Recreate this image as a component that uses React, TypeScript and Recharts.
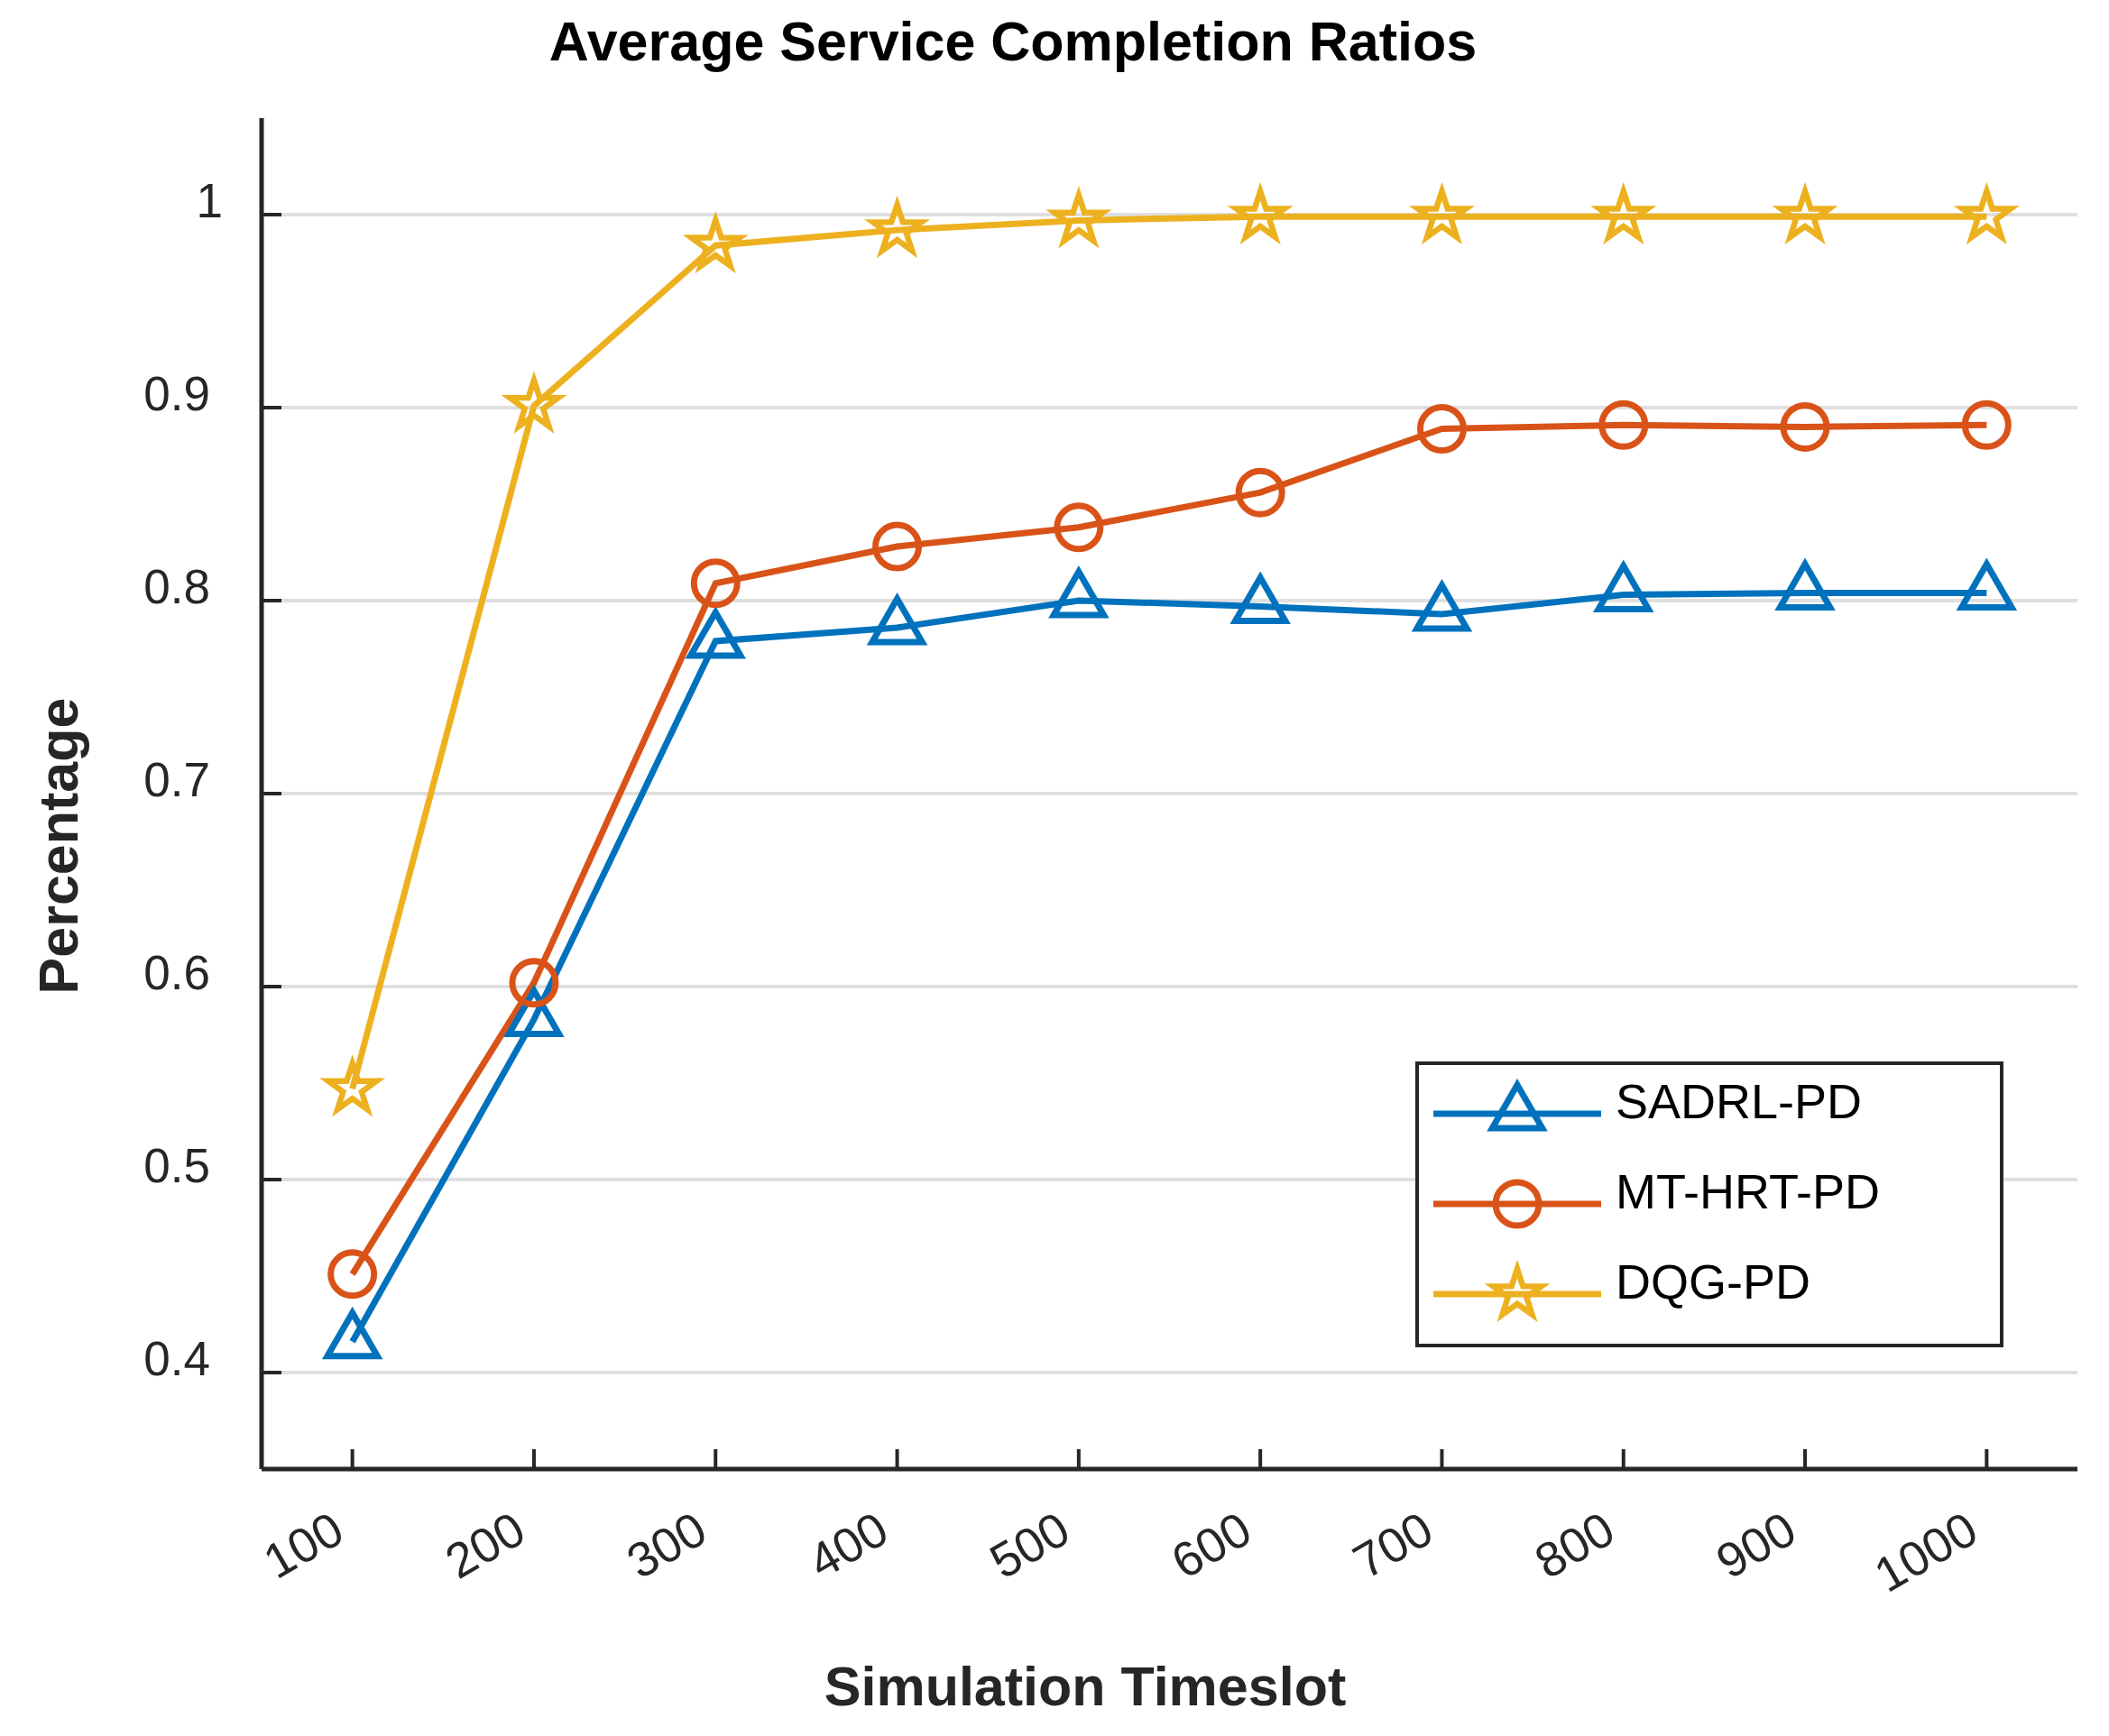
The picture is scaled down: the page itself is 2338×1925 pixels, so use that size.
import React from 'react';
import { LineChart, Line, XAxis, YAxis, CartesianGrid, Legend } from 'recharts';

const TIMESLOTS = [100, 200, 300, 400, 500, 600, 700, 800, 900, 1000];
const SADRL_PD = [0.416, 0.583, 0.779, 0.786, 0.8, 0.797, 0.793, 0.803, 0.804, 0.804];
const MT_HRT_PD = [0.451, 0.602, 0.809, 0.828, 0.838, 0.856, 0.889, 0.891, 0.89, 0.891];
const DQG_PD = [0.547, 0.901, 0.984, 0.992, 0.997, 0.999, 0.999, 0.999, 0.999, 0.999];
const Y_TICKS = [0.4, 0.5, 0.6, 0.7, 0.8, 0.9, 1.0];
const Y_TICK_LABELS = ['0.4', '0.5', '0.6', '0.7', '0.8', '0.9', '1'];

const TITLE = 'Average Service Completion Ratios';
const X_LABEL = 'Simulation Timeslot';
const Y_LABEL = 'Percentage';

const SERIES = [
  { key: 'sadrl', name: 'SADRL-PD', color: '#0072BD', marker: 'triangle' },
  { key: 'mthrt', name: 'MT-HRT-PD', color: '#D95319', marker: 'circle' },
  { key: 'dqg', name: 'DQG-PD', color: '#EDB120', marker: 'star' },
];

const data = TIMESLOTS.map((t, i) => ({
  t,
  sadrl: SADRL_PD[i],
  mthrt: MT_HRT_PD[i],
  dqg: DQG_PD[i],
}));

const FONT = '"Liberation Sans", Arial, Helvetica, sans-serif';
const AXIS_COLOR = '#262626';
const LINE_W = 7;
const MARK_W = 7;

function starPath(cx: number, cy: number, R: number, r: number) {
  const pts: string[] = [];
  for (let k = 0; k < 10; k++) {
    const rad = k % 2 === 0 ? R : r;
    const a = -Math.PI / 2 + (k * Math.PI) / 5;
    pts.push(`${(cx + rad * Math.cos(a)).toFixed(2)},${(cy + rad * Math.sin(a)).toFixed(2)}`);
  }
  return 'M' + pts.join('L') + 'Z';
}

function Marker({ type, cx, cy, color }: { type: string; cx: number; cy: number; color: string }) {
  if (type === 'circle') {
    return <circle cx={cx} cy={cy} r={24} fill="none" stroke={color} strokeWidth={MARK_W} />;
  }
  if (type === 'triangle') {
    const R = 32;
    const h = R * 0.866;
    const d = `M${cx},${cy - R}L${cx + h},${cy + R / 2}L${cx - h},${cy + R / 2}Z`;
    return <path d={d} fill="none" stroke={color} strokeWidth={MARK_W} strokeLinejoin="miter" />;
  }
  return <path d={starPath(cx, cy, 28, 10.8)} fill="none" stroke={color} strokeWidth={MARK_W - 0.5} strokeLinejoin="miter" />;
}

const makeDot = (type: string, color: string) => (props: any) => {
  const { cx, cy, index } = props;
  if (cx == null || cy == null) return <g key={`d-${type}-${index}`} />;
  return (
    <g key={`d-${type}-${index}`}>
      <Marker type={type} cx={cx} cy={cy} color={color} />
    </g>
  );
};

const YTick = (props: any) => {
  const { x, y, payload } = props;
  const idx = Y_TICKS.indexOf(payload.value);
  const label = idx >= 0 ? Y_TICK_LABELS[idx] : String(payload.value);
  const dx = label === '1' ? 14 : 0;
  return (
    <g>
      <line x1={x} x2={x + 22} y1={y} y2={y} stroke={AXIS_COLOR} strokeWidth={4} />
      <text x={x - 57 + dx} y={y + 3} textAnchor="end" fontFamily={FONT} fontSize={53} fill={AXIS_COLOR}>
        {label}
      </text>
    </g>
  );
};

const XTick = (props: any) => {
  const { x, y, payload } = props;
  return (
    <g>
      <line x1={x} x2={x} y1={y} y2={y - 22} stroke={AXIS_COLOR} strokeWidth={4} />
      <text
        transform={`translate(${x - 6},${y + 78}) rotate(-30)`}
        textAnchor="end"
        fontFamily={FONT}
        fontSize={54}
        fill={AXIS_COLOR}
      >
        {payload.value}
      </text>
    </g>
  );
};

const LEG_W = 652;
const LEG_H = 317;

const renderLegend = () => (
  <svg width={LEG_W} height={LEG_H} style={{ display: 'block' }}>
    <rect x={2} y={2} width={LEG_W - 4} height={LEG_H - 4} fill="#ffffff" stroke={AXIS_COLOR} strokeWidth={4} />
    {SERIES.map((s, i) => {
      const cy = 58 + i * 100;
      return (
        <g key={s.key}>
          <line x1={20} x2={206} y1={cy} y2={cy} stroke={s.color} strokeWidth={LINE_W} />
          <Marker type={s.marker} cx={113} cy={cy} color={s.color} />
          <text x={222} y={cy + 5} fontFamily={FONT} fontSize={54} fill="#000000">
            {s.name}
          </text>
        </g>
      );
    })}
  </svg>
);

export default function App() {
  return (
    <div style={{ position: 'absolute', left: 0, top: 0, width: 2338, height: 1925, background: '#ffffff' }}>
      <LineChart
        width={2338}
        height={1925}
        data={data}
        margin={{ top: 131, right: 35, left: 0, bottom: 0 }}
      >
        <CartesianGrid vertical={false} horizontalValues={Y_TICKS} stroke="#dfdfdf" strokeWidth={4} />
        <XAxis
          dataKey="t"
          type="number"
          domain={[50, 1050]}
          ticks={TIMESLOTS}
          interval={0}
          height={296}
          tickSize={0}
          tickMargin={0}
          tickLine={false}
          tick={<XTick />}
          axisLine={{ stroke: AXIS_COLOR, strokeWidth: 5 }}
          allowDataOverflow
        />
        <YAxis
          type="number"
          domain={[0.35, 1.05]}
          ticks={Y_TICKS}
          interval={0}
          width={290}
          tickSize={0}
          tickMargin={0}
          tickLine={false}
          tick={<YTick />}
          axisLine={{ stroke: AXIS_COLOR, strokeWidth: 5 }}
          allowDataOverflow
        />
        <Legend
          layout="vertical"
          align="center"
          verticalAlign="middle"
          content={renderLegend}
          wrapperStyle={{ left: 1569, top: 1177, width: LEG_W, height: LEG_H }}
        />
        {SERIES.map((s) => (
          <Line
            key={s.key}
            type="linear"
            dataKey={s.key}
            name={s.name}
            stroke={s.color}
            strokeWidth={LINE_W}
            dot={makeDot(s.marker, s.color)}
            activeDot={false}
            isAnimationActive={false}
          />
        ))}
      </LineChart>
      <svg
        width={2338}
        height={1925}
        style={{ position: 'absolute', left: 0, top: 0, pointerEvents: 'none' }}
      >
        <text x={1123} y={67} textAnchor="middle" fontFamily={FONT} fontWeight="bold" fontSize={61} fill="#000000">
          {TITLE}
        </text>
        <text x={1203} y={1891} textAnchor="middle" fontFamily={FONT} fontWeight="bold" fontSize={61} fill={AXIS_COLOR}>
          {X_LABEL}
        </text>
        <text
          transform="translate(86,938) rotate(-90)"
          textAnchor="middle"
          fontFamily={FONT}
          fontWeight="bold"
          fontSize={61}
          fill={AXIS_COLOR}
        >
          {Y_LABEL}
        </text>
      </svg>
    </div>
  );
}
